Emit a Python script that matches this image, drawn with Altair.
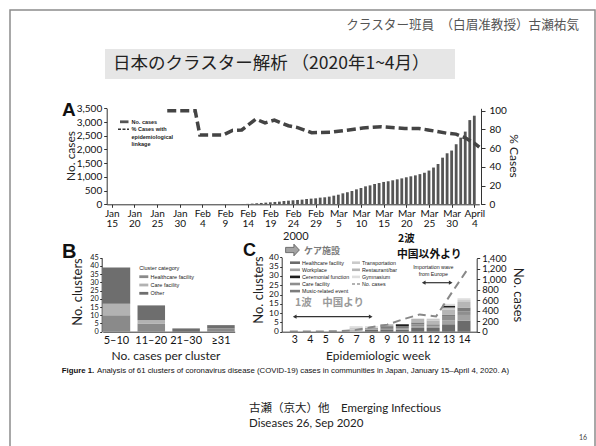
import altair as alt
import pandas as pd

W, H = 596, 446
SANS = "Lato, 'Noto Sans CJK JP'"
ARIAL = "'Liberation Sans', Arial"
JP = "'Noto Sans CJK JP'"

# ---------------- Panel A: cumulative cases and % with linkage ----------------
case_start, case_end = "2020-02-13", "2020-04-04"
case_counts = [
    8, 15, 25, 36, 49, 61, 73, 85, 97, 121, 133, 146, 158, 170, 194, 206, 218,
    243, 255, 280, 315, 350, 400, 440, 485, 545, 595, 655, 690, 740, 775, 815,
    840, 875, 910, 945, 985, 1020, 1055, 1100, 1150, 1230, 1340, 1470, 1700,
    1860, 1960, 2190,
    2430, 2650, 3070, 3230,
]
link_dates = [
    "2020-01-28", "2020-02-03", "2020-02-04", "2020-02-09", "2020-02-11",
    "2020-02-13", "2020-02-16", "2020-02-18", "2020-02-20", "2020-02-23",
    "2020-02-25", "2020-02-28", "2020-03-03", "2020-03-07", "2020-03-10",
    "2020-03-14", "2020-03-19", "2020-03-22", "2020-03-24", "2020-03-28",
    "2020-03-30", "2020-04-01", "2020-04-02", "2020-04-03", "2020-04-04",
]
link_pct = [100, 100, 74, 74, 79, 79.5, 91, 87, 90, 84, 82, 76.5, 77, 79.5,
            81.5, 83, 81, 81, 79.5, 76, 75, 71, 68, 65, 61]
a_tick_labels = ["Jan 15", "Jan 20", "Jan 25", "Jan 30", "Feb 4", "Feb 9",
                 "Feb 14", "Feb 19", "Feb 24", "Feb 29", "Mar 5", "Mar 10",
                 "Mar 15", "Mar 20", "Mar 25", "Mar 30", "April 4"]

# ---------------- Panel B: clusters by size ----------------
b_sizes = ["5–10", "11–20", "21–30", "≥31"]
b_categories = ["Healthcare facility", "Care facility", "Other"]
b_colors = ["#8a8a8a", "#b2b2b2", "#6e6e6e"]
b_counts = {
    "Healthcare facility": [10, 5, 0, 2],
    "Care facility": [7, 2, 0, 0],
    "Other": [22, 9, 2, 2],
}

# ---------------- Panel C: clusters by epidemiologic week ----------------
c_weeks = [3, 4, 5, 6, 7, 8, 9, 10, 11, 12, 13, 14]
c_stack = ["Healthcare facility", "Workplace", "Care facility",
           "Music-related event", "Restaurant/bar", "Transportation",
           "Ceremonial function", "Gymnasium"]
c_colors = ["#6b6b6b", "#a2a2a2", "#8e8e8e", "#7c7c7c", "#b6b6b6",
            "#cacaca", "#1e1e1e", "#dedede"]
c_counts = {
    "Healthcare facility": [0, 0, 0, 0, 0, 1, 1, 1, 2, 2, 4, 6],
    "Workplace":           [0, 0, 0, 0, 0, 1, 0, 1, 1, 1, 2, 3],
    "Care facility":       [0, 0, 0, 0, 0, 0, 1, 0, 1, 1, 2, 2],
    "Music-related event": [0, 0, 0, 0, 0, 0, 1, 1, 1, 0, 1, 2],
    "Restaurant/bar":      [0, 0, 0, 0, 1, 0, 1, 0, 2, 2, 3, 3],
    "Transportation":      [0, 0, 0, 0, 1, 0, 0, 0, 0, 1, 1, 1],
    "Ceremonial function": [0, 0, 0, 0, 0, 0, 0, 1, 0, 0, 1, 0],
    "Gymnasium":           [0, 0, 0, 0, 1, 1, 0, 0, 0, 0, 1, 1],
}
c_week_cases = [5, 5, 5, 10, 30, 85, 135, 240, 330, 290, 760, 1220]

# ---------------- tables ----------------
origin = pd.Timestamp("2020-01-15")
dates = pd.date_range(case_start, case_end)
df_cases = pd.DataFrame({"day": (dates - origin).days, "cases": case_counts})
df_link = pd.DataFrame({"day": (pd.to_datetime(link_dates) - origin).days,
                        "pct": link_pct})
df_b = pd.DataFrame([
    {"size": s, "cat": c, "n": b_counts[c][i], "ord": k}
    for k, c in enumerate(b_categories) for i, s in enumerate(b_sizes)
])
df_c = pd.DataFrame([
    {"week": w, "cat": c, "n": c_counts[c][i], "ord": k}
    for k, c in enumerate(c_stack) for i, w in enumerate(c_weeks)
])
df_cline = pd.DataFrame({"week": c_weeks, "cases": c_week_cases})
one = pd.DataFrame({"k": [0]})

AX = dict(grid=False, domainColor="#333", tickColor="#333", labelColor="#111",
          labelFont="Lato", title=None, labelOverlap=False)


def txt(s, x, y, size, color="#222", weight="normal", font=SANS,
        align="left", angle=0, baseline="middle"):
    return alt.Chart(one).mark_text(
        text=s, fontSize=size, color=color, fontWeight=weight, font=font,
        align=align, baseline=baseline, angle=angle,
    ).encode(x=alt.value(x), y=alt.value(y))


def box(x1, x2, y1, y2, color):
    return alt.Chart(one).mark_rect(color=color).encode(
        x=alt.value(x1), x2=alt.value(x2), y=alt.value(y1), y2=alt.value(y2))


def rule(x1, x2, y, color="#333", width=1.0, dash=None):
    kw = dict(color=color, strokeWidth=width)
    if dash:
        kw["strokeDash"] = dash
    return alt.Chart(one).mark_rule(**kw).encode(
        x=alt.value(x1), x2=alt.value(x2), y=alt.value(y), y2=alt.value(y))


def double_arrow(x1, x2, y):
    head = dict(filled=True, size=18, color="#333", opacity=1)
    return [
        rule(x1 + 2, x2 - 2, y, width=1.2),
        alt.Chart(one).mark_point(shape="triangle-left", **head).encode(
            x=alt.value(x1 + 2), y=alt.value(y)),
        alt.Chart(one).mark_point(shape="triangle-right", **head).encode(
            x=alt.value(x2 - 2), y=alt.value(y)),
    ]


layers = []

# slide frame and header
layers.append(alt.Chart(one).mark_rect(fillOpacity=0, stroke="#8c8c8c",
                                       strokeWidth=1.5).encode(
    x=alt.value(10), x2=alt.value(595), y=alt.value(10), y2=alt.value(470)))
layers.append(txt("クラスター班員　（白眉准教授）古瀬祐気", 579, 25, 12.6,
                  color="#555", font=JP, align="right"))
layers.append(box(105, 455, 49, 79, "#e6e6e6"))
layers.append(txt("日本のクラスター解析 （2020年1~4月）", 113, 64, 17.5,
                  color="#222", font=JP))

# ---- panel A ----
a_x = alt.Scale(domain=[0, 80], range=[106.7, 479.3], nice=False, zero=False)
a_label_expr = "split(" + str(a_tick_labels) + "[round(datum.value / 5)], ' ')"
layers.append(alt.Chart(df_cases).mark_bar(width=2.8, color="#555555",
                                           orient="vertical").encode(
    x=alt.X("day:Q", scale=a_x, axis=alt.Axis(
        orient="bottom", offset=204.3 - H, values=list(range(0, 81, 5)),
        labelExpr=a_label_expr, labelFontSize=10, labelLineHeight=10.5,
        tickSize=3, labelPadding=1, labelFlush=False, **AX)),
    y=alt.Y("cases:Q", scale=alt.Scale(domain=[0, 3500], range=[204.3, 108.3],
                                       nice=False), axis=alt.Axis(
        orient="left", offset=-106.7, values=list(range(0, 3501, 500)),
        format=",d", labelFontSize=10, tickSize=3, labelPadding=2, **AX)),
))
layers.append(alt.Chart(df_link).mark_line(
    color="#444", strokeWidth=3.5, strokeDash=[9, 4], strokeCap="butt").encode(
    x=alt.X("day:Q", scale=a_x, axis=None),
    y=alt.Y("pct:Q", scale=alt.Scale(domain=[0, 102.6], range=[204.3, 108.3],
                                     nice=False), axis=alt.Axis(
        orient="right", offset=481 - W, values=list(range(0, 101, 20)),
        format="d", labelFontSize=10, tickSize=4, labelPadding=4, **AX)),
))
layers.append(txt("A", 62, 115.5, 19, color="#111", weight="bold", font=ARIAL,
                  baseline="alphabetic"))
layers.append(txt("No. cases", 71, 156, 12, angle=270, align="center"))
layers.append(txt("% Cases", 514, 156, 12, angle=90, align="center"))
# legend A
layers.append(box(120, 128.5, 120.4, 123.2, "#555555"))
layers.append(txt("No. cases", 131.5, 121.8, 5.5, weight="bold", font=ARIAL))
layers.append(rule(118, 129, 129.3, color="#333", width=1.6, dash=[3, 1.5]))
for i, line in enumerate(["% Cases with", "epidemiological", "linkage"]):
    layers.append(txt(line, 131.5, 129.3 + i * 7.3, 5.5, weight="bold",
                      font=ARIAL))

# ---- panel B ----
layers.append(alt.Chart(df_b).mark_bar().encode(
    x=alt.X("size:N", sort=b_sizes, scale=alt.Scale(
        domain=b_sizes, range=[102.7, 234.7], paddingInner=0.21,
        paddingOuter=0), axis=alt.Axis(
        orient="bottom", offset=331.7 - H, labelFontSize=11, tickSize=0,
        labelPadding=3, labelAngle=0, **AX)),
    y=alt.Y("n:Q", stack="zero", scale=alt.Scale(
        domain=[0, 45], range=[331.7, 257.7], nice=False), axis=alt.Axis(
        orient="left", offset=-101.7, values=list(range(0, 46, 5)),
        format="d", labelFontSize=7.3, tickSize=2, labelPadding=1.5, **AX)),
    color=alt.Color("cat:N", scale=alt.Scale(domain=b_categories,
                                             range=b_colors), legend=None),
    order=alt.Order("ord:Q", sort="ascending"),
))
layers.append(txt("B", 62, 258, 20, color="#111", weight="bold", font=ARIAL,
                  baseline="alphabetic"))
layers.append(txt("No. clusters", 78, 292, 13, angle=270, align="center"))
layers.append(txt("No. cases per cluster", 166, 355.5, 12, align="center"))
layers.append(txt("Cluster category", 139.3, 268.3, 5.5, font=ARIAL))
for i, (c, col) in enumerate(zip(b_categories, b_colors)):
    yy = 276.7 + i * 8.3
    layers.append(box(139.3, 148.3, yy - 1.4, yy + 1.4, col))
    layers.append(txt(c, 150.5, yy, 5.5, font=ARIAL))

# ---- panel C ----
c_x = alt.Scale(domain=[2.5, 14.5], range=[281.7, 476.7], nice=False,
                zero=False)
layers.append(alt.Chart(df_c).mark_bar(width=13, orient="vertical").encode(
    x=alt.X("week:Q", scale=c_x, axis=alt.Axis(
        orient="bottom", offset=331.7 - H, values=c_weeks, labelFontSize=10.5,
        format="d", tickSize=0, labelPadding=3, labelFlush=False, **AX)),
    y=alt.Y("n:Q", stack="zero", scale=alt.Scale(
        domain=[0, 40], range=[331.7, 257.3], nice=False), axis=alt.Axis(
        orient="left", offset=-281.7, values=list(range(0, 41, 5)),
        format="d", labelFontSize=8.3, tickSize=2, labelPadding=1.5, **AX)),
    color=alt.Color("cat:N", scale=alt.Scale(domain=c_stack, range=c_colors),
                    legend=None),
    order=alt.Order("ord:Q", sort="ascending"),
))
layers.append(alt.Chart(df_cline).mark_line(
    color="#888", strokeWidth=2, strokeDash=[8, 5], strokeCap="butt").encode(
    x=alt.X("week:Q", scale=c_x, axis=None),
    y=alt.Y("cases:Q", scale=alt.Scale(domain=[0, 1400], range=[331.7, 258.3],
                                       nice=False), axis=alt.Axis(
        orient="right", offset=476.7 - W, values=list(range(0, 1401, 200)),
        format=",d", labelFontSize=9.5, tickSize=3, labelPadding=2, **AX)),
))
layers.append(txt("C", 243, 256, 18, color="#111", weight="bold", font=ARIAL,
                  baseline="alphabetic"))
layers.append(txt("No. clusters", 259, 290, 13, angle=270, align="center"))
layers.append(txt("No. cases", 518, 295, 13, angle=90, align="center"))
layers.append(txt("Epidemiologic week", 378.3, 355.7, 12, align="center"))
# legend C (two columns)
c_legend_cols = [
    ["Healthcare facility", "Workplace", "Ceremonial function",
     "Care facility", "Music-related event"],
    ["Transportation", "Restaurant/bar", "Gymnasium"],
]
col_pos = [(290, 300, 302), (352, 360, 362)]
for (sx1, sx2, tx), names in zip(col_pos, c_legend_cols):
    for i, name in enumerate(names):
        yy = 262.7 + i * 7.1
        layers.append(box(sx1, sx2, yy - 1.3, yy + 1.3,
                          c_colors[c_stack.index(name)]))
        layers.append(txt(name, tx, yy, 5.3, font=ARIAL))
layers.append(rule(352, 360, 262.7 + 3 * 7.1, color="#666", width=1.2,
                   dash=[3, 2]))
layers.append(txt("No. cases", 362, 262.7 + 3 * 7.1, 5.3, font=ARIAL))

# annotations on panel C
layers.append(txt("2000", 283, 236.7, 11, font="Lato"))
layers.append(alt.Chart(one).mark_point(
    shape="M-1,-0.38L0.2,-0.38L0.2,-0.85L1,0L0.2,0.85L0.2,0.38L-1,0.38Z",
    filled=True, fill="#a3a3a3", stroke="#555", strokeWidth=0.8, size=190,
    opacity=1).encode(x=alt.value(292.5), y=alt.value(250)))
layers.append(txt("ケア施設", 304, 250.5, 9, color="#7a7a7a", weight="bold",
                  font=JP))
layers.append(txt("2波", 398, 238.5, 10.5, color="#111", weight="bold", font=JP))
layers.append(txt("中国以外より", 397, 254.5, 10.8, color="#111", weight="bold",
                  font=JP))
layers.append(txt("1波　中国より", 295, 303, 10.5, color="#9a9a9a",
                  weight="bold", font=JP))
layers += double_arrow(292.7, 372.7, 316.7)
layers.append(txt("Importation wave", 433.3, 266.7, 5.3, font=ARIAL,
                  align="center"))
layers.append(txt("from Europe", 433.3, 274.3, 5.3, font=ARIAL,
                  align="center"))
layers += double_arrow(421.7, 452.7, 282.7)

# caption, citation, page number
layers.append(txt("Figure 1.", 61.7, 370.7, 7.8, color="#111", weight="bold",
                  font=ARIAL))
layers.append(txt("Analysis of 61 clusters of coronavirus disease (COVID-19) "
                  "cases in communities in Japan, January 15–April 4, 2020. A)",
                  97, 370.7, 7.8, color="#111", font=ARIAL))
layers.append(txt("古瀬（京大）他　Emerging Infectious", 249, 408.5, 11.5))
layers.append(txt("Diseases 26, Sep 2020", 249, 423.5, 11.5))
layers.append(txt("16", 583, 437.5, 7, color="#444", align="center"))

chart = alt.layer(*layers).resolve_scale(
    x="independent", y="independent", color="independent"
).properties(
    width=W, height=H, autosize=alt.AutoSizeParams(type="none"), padding=0,
    background="white",
).configure_view(stroke=None)

chart.save("out.html", embed_options={"renderer": "svg", "actions": False})
